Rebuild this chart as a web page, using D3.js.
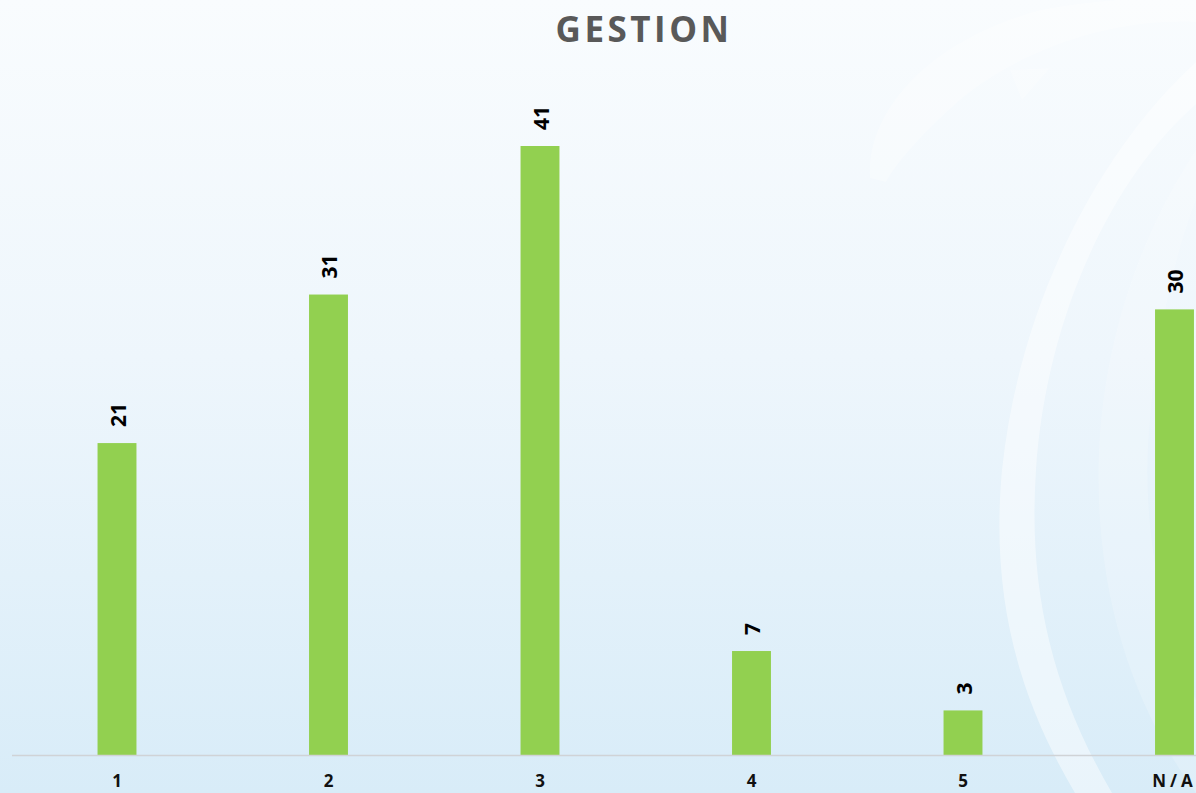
<!DOCTYPE html>
<html lang="fr">
<head>
<meta charset="utf-8">
<title>GESTION</title>
<script src="https://d3js.org/d3.v7.min.js"></script>
<style>
  html, body { margin: 0; padding: 0; overflow: hidden; }
  svg { display: block; }
</style>
</head>
<body>
<svg width="1196" height="793"></svg>
<script>
// data
var categories = ["1", "2", "3", "4", "5", "N/A"];
var counts = [21, 31, 41, 7, 3, 30];
var title = "GESTION";

var svg = d3.select("svg"),
    width = +svg.attr("width"),
    height = +svg.attr("height");

var baseY = 755, topY = 146;

// background gradient
var defs = svg.append("defs");
var grad = defs.append("linearGradient")
    .attr("id", "bg").attr("x1", 0).attr("y1", 0).attr("x2", 0).attr("y2", 1);
grad.append("stop").attr("offset", "0%").attr("stop-color", "#f9fcfe");
grad.append("stop").attr("offset", "45%").attr("stop-color", "#eef6fc");
grad.append("stop").attr("offset", "100%").attr("stop-color", "#d8ecf8");

svg.append("rect").attr("width", width).attr("height", height).attr("fill", "url(#bg)");

// decorative swooshes on the right (faint)
var deco = svg.append("g").attr("fill", "#ffffff");
deco.append("path")
    .attr("opacity", 0.3)
    .attr("d", "M870,178 C866,110 930,40 1040,10 C1090,0 1150,-4 1196,0 L1196,22 C1110,18 1020,50 960,100 C920,135 895,165 886,182 Z");
deco.append("path")
    .attr("opacity", 0.25)
    .attr("d", "M1010,70 L1022,100 L1050,68 Z");
deco.append("path")
    .attr("opacity", 0.45)
    .attr("d", "M1196,62 C1100,150 1020,300 1002,470 C990,600 1020,700 1075,793 L1112,793 C1052,690 1028,590 1036,470 C1046,320 1110,180 1196,104 Z");
deco.append("path")
    .attr("opacity", 0.18)
    .attr("d", "M1196,150 C1130,250 1090,380 1100,520 C1108,640 1150,730 1196,793 L1196,700 C1160,620 1140,520 1150,420 C1158,320 1180,240 1196,200 Z");

var x = d3.scaleBand()
    .domain(categories)
    .range([11.25, 1280.25])
    .paddingInner(0.816)
    .paddingOuter(0.408);

var y = d3.scaleLinear()
    .domain([0, d3.max(counts)])
    .range([baseY, topY]);

var data = categories.map(function(c, i) { return { cat: c, value: counts[i] }; });

// title
svg.append("text")
    .attr("x", 644)
    .attr("y", 42)
    .attr("text-anchor", "middle")
    .attr("font-family", "'Open Sans', sans-serif")
    .attr("font-weight", "bold")
    .attr("font-size", 35)
    .attr("letter-spacing", 3.5)
    .attr("fill", "#595959")
    .text(title);

// bars
svg.selectAll(".bar")
  .data(data)
  .enter().append("rect")
    .attr("class", "bar")
    .attr("x", function(d) { return x(d.cat); })
    .attr("y", function(d) { return y(d.value); })
    .attr("width", x.bandwidth())
    .attr("height", function(d) { return baseY - y(d.value); })
    .attr("fill", "#92d050");

// baseline
svg.append("line")
    .attr("x1", 12).attr("x2", width)
    .attr("y1", baseY + 0.5).attr("y2", baseY + 0.5)
    .attr("stroke", "#d0d3d6")
    .attr("stroke-width", 1.5);

// value labels, rotated
svg.selectAll(".val")
  .data(data)
  .enter().append("text")
    .attr("class", "val")
    .attr("transform", function(d) {
      return "translate(" + (x(d.cat) + x.bandwidth() / 2 + 1) + "," + (y(d.value) - 16) + ") rotate(-90)";
    })
    .attr("dy", "0.36em")
    .attr("text-anchor", "start")
    .attr("font-family", "'Open Sans', sans-serif")
    .attr("font-weight", "bold")
    .attr("font-size", 21)
    .attr("fill", "#000")
    .text(function(d) { return d.value; });

// category labels
svg.selectAll(".cat")
  .data(data)
  .enter().append("text")
    .attr("class", "cat")
    .attr("x", function(d) { return x(d.cat) + x.bandwidth() / 2; })
    .attr("y", 787)
    .attr("text-anchor", "middle")
    .attr("font-family", "'Open Sans', sans-serif")
    .attr("font-weight", "bold")
    .attr("font-size", 17)
    .attr("letter-spacing", function(d) { return d.cat === "N/A" ? 4 : 0; })
    .attr("fill", "#111")
    .text(function(d) { return d.cat; });
</script>
</body>
</html>
